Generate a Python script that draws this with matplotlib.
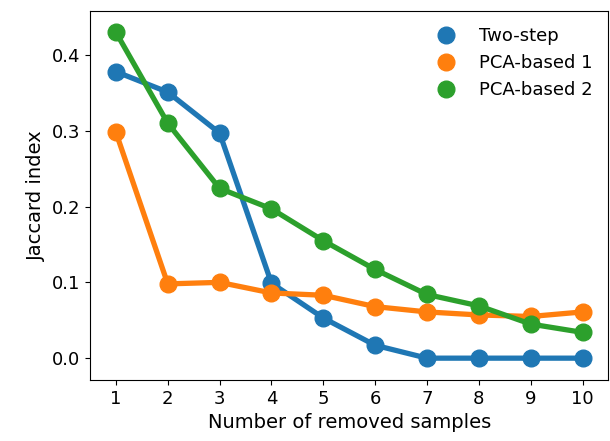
import matplotlib
matplotlib.use('Agg')
import matplotlib.pyplot as plt
from matplotlib.lines import Line2D

removed = [1, 2, 3, 4, 5, 6, 7, 8, 9, 10]
two_step = [0.378, 0.351, 0.297, 0.099, 0.053, 0.017, 0.0, 0.0, 0.0, 0.0]
pca_based_1 = [0.298, 0.098, 0.100, 0.086, 0.083, 0.068, 0.061, 0.057, 0.055, 0.061]
pca_based_2 = [0.430, 0.310, 0.224, 0.197, 0.155, 0.117, 0.084, 0.069, 0.045, 0.034]

series = [('Two-step', two_step, '#1f77b4'),
          ('PCA-based 1', pca_based_1, '#ff7f0e'),
          ('PCA-based 2', pca_based_2, '#2ca02c')]

fig = plt.figure(figsize=(6.1, 4.41), dpi=100)
ax = fig.add_axes([0.1475, 0.138, 0.85, 0.837])

handles = []
for name, vals, color in series:
    ax.plot(removed, vals, color=color, linewidth=3.8, marker='o', markersize=12)
    handles.append(Line2D([], [], color=color, linestyle='', marker='o', markersize=12, label=name))

ax.set_xlim(0.5, 10.5)
ax.set_ylim(-0.029, 0.458)
ax.set_xticks(removed)
ax.set_yticks([0.0, 0.1, 0.2, 0.3, 0.4])
ax.tick_params(labelsize=13)
ax.set_xlabel('Number of removed samples', fontsize=14)
ax.set_ylabel('Jaccard index', fontsize=14)
ax.legend(handles=handles, loc='upper right', frameon=False, fontsize=13)

plt.savefig('out.png', dpi=100)
